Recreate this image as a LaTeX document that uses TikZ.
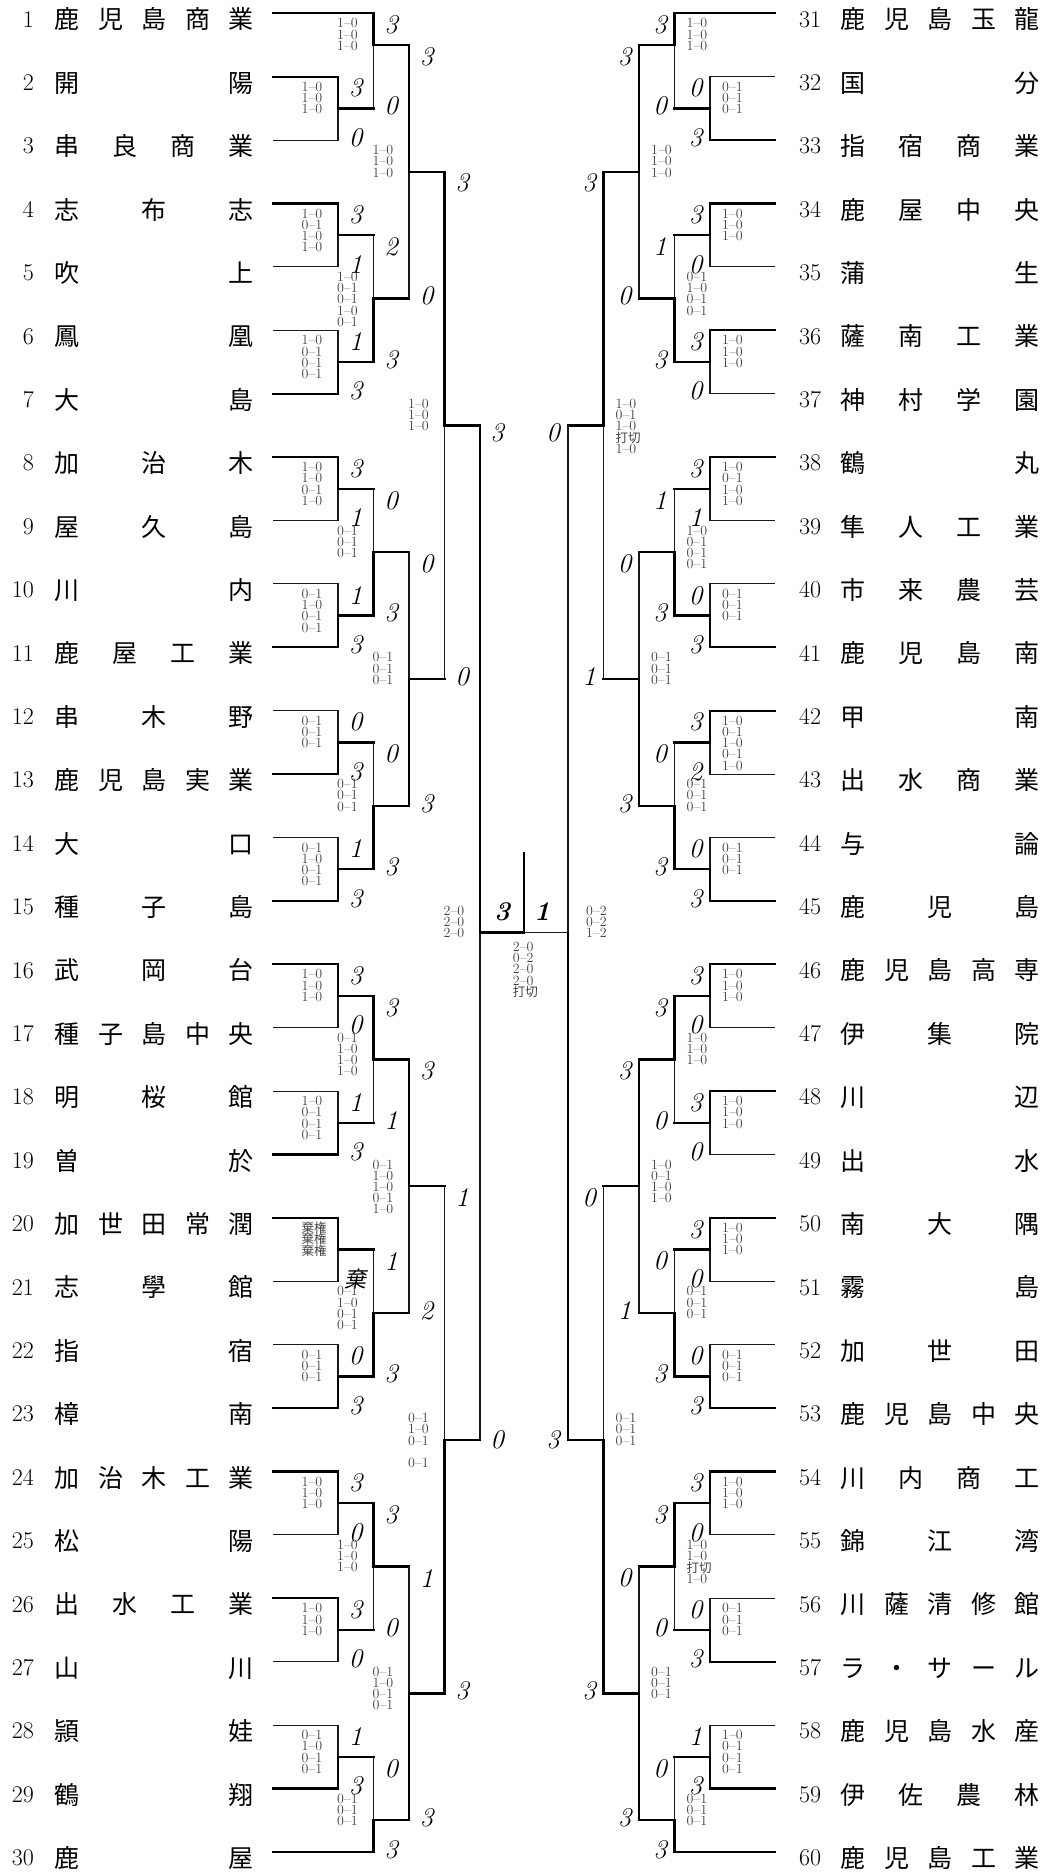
\documentclass[tikz,border=0pt]{standalone}
\usepackage{fontspec}
\newfontfamily\jp{Noto Sans CJK JP}
\newfontfamily\jpit[FakeSlant=0.2]{Noto Sans CJK JP}
\usetikzlibrary{calc}

% one match: junction, x, y, upper entrant, its style, lower entrant, its style
\newcommand\bout[7]{%
  \coordinate (#1) at (#2,#3);
  \draw[#5] (#4) -| (#1);
  \draw[#7] (#6) -| (#1);
  \coordinate (#1o) at ($(#1)+(\outx,0)$);
  \draw[win] (#1) -- (#1o);}
% scores of one match
\newcommand\bscore[5]{%
  \path (#2 -| #1) ++(\scx,11.5) node[sc] (#1u) {#3};
  \path (#4 -| #1) ++(\scx,-2.5) node[sc] (#1d) {#5};}
% set scores of one match
\newcommand\bsets[2]{%
  \foreach \s [count=\k] in {#2}
    \path (#1) ++(\stx,\k*11.2-32.9) node[st] (#1s\k) {\s};}
% small kanji in the set scores
\newcommand\jw[1]{{\fontsize{12.5}{12.5}\selectfont\jp #1}}

\begin{document}
\begin{tikzpicture}[x=1pt,y=-1pt]
    \tikzstyle{win} = [line width=2.3pt,line cap=rect]
    \tikzstyle{lose} = [line width=1.1pt,black!90]
    \tikzstyle{sc} = [inner sep=0pt,font=\fontsize{27}{27}\selectfont\itshape]
    \tikzstyle{st} = [inner sep=0pt,anchor=west,text=black!75,font=\fontsize{14}{14}\selectfont]
    \tikzstyle{no} = [inner sep=0pt,font=\fontsize{24}{24}\selectfont]
    \tikzstyle{nm} = [inner sep=0pt,anchor=base west,font=\fontsize{25}{25}\selectfont\jp]
    \useasboundingbox (0,0) rectangle (1047,1874);

    % teams
    \foreach \i/\nm in {1/鹿\hfill 児\hfill 島\hfill 商\hfill 業,2/開\hfill 陽,3/串\hfill 良\hfill 商\hfill 業,
      4/志\hfill 布\hfill 志,5/吹\hfill 上,6/鳳\hfill 凰,7/大\hfill 島,8/加\hfill 治\hfill 木,9/屋\hfill 久\hfill 島,
      10/川\hfill 内,11/鹿\hfill 屋\hfill 工\hfill 業,12/串\hfill 木\hfill 野,13/鹿\hfill 児\hfill 島\hfill 実\hfill 業,
      14/大\hfill 口,15/種\hfill 子\hfill 島,16/武\hfill 岡\hfill 台,17/種\hfill 子\hfill 島\hfill 中\hfill 央,
      18/明\hfill 桜\hfill 館,19/曽\hfill 於,20/加\hfill 世\hfill 田\hfill 常\hfill 潤,21/志\hfill 學\hfill 館,
      22/指\hfill 宿,23/樟\hfill 南,24/加\hfill 治\hfill 木\hfill 工\hfill 業,25/松\hfill 陽,
      26/出\hfill 水\hfill 工\hfill 業,27/山\hfill 川,28/頴\hfill 娃,29/鶴\hfill 翔,30/鹿\hfill 屋} {
      \coordinate (t\i) at (273,{13.3+(\i-1)*63.4});
      \node[no,anchor=base east] (n\i) at (34,{27+(\i-1)*63.4}) {\i};
      \node[nm] (s\i) at (54.5,{28.9+(\i-1)*63.4}) {\makebox[199pt][s]{\nm}};
    }
    \foreach \i/\nm in {31/鹿\hfill 児\hfill 島\hfill 玉\hfill 龍,32/国\hfill 分,33/指\hfill 宿\hfill 商\hfill 業,
      34/鹿\hfill 屋\hfill 中\hfill 央,35/蒲\hfill 生,36/薩\hfill 南\hfill 工\hfill 業,37/神\hfill 村\hfill 学\hfill 園,
      38/鶴\hfill 丸,39/隼\hfill 人\hfill 工\hfill 業,40/市\hfill 来\hfill 農\hfill 芸,41/鹿\hfill 児\hfill 島\hfill 南,
      42/甲\hfill 南,43/出\hfill 水\hfill 商\hfill 業,44/与\hfill 論,45/鹿\hfill 児\hfill 島,
      46/鹿\hfill 児\hfill 島\hfill 高\hfill 専,47/伊\hfill 集\hfill 院,48/川\hfill 辺,49/出\hfill 水,
      50/南\hfill 大\hfill 隅,51/霧\hfill 島,52/加\hfill 世\hfill 田,53/鹿\hfill 児\hfill 島\hfill 中\hfill 央,
      54/川\hfill 内\hfill 商\hfill 工,55/錦\hfill 江\hfill 湾,56/川\hfill 薩\hfill 清\hfill 修\hfill 館,
      57/ラ\hfill ・\hfill サ\hfill ー\hfill ル,58/鹿\hfill 児\hfill 島\hfill 水\hfill 産,
      59/伊\hfill 佐\hfill 農\hfill 林,60/鹿\hfill 児\hfill 島\hfill 工\hfill 業} {
      \coordinate (t\i) at (775,{13.3+(\i-31)*63.4});
      \node[no,anchor=base west] (n\i) at (799,{27+(\i-31)*63.4}) {\i};
      \node[nm] (s\i) at (840.5,{28.9+(\i-31)*63.4}) {\makebox[199pt][s]{\nm}};
    }

    % left side
    \def\outx{35.5}\def\scx{17.5}\def\stx{-36.5}
    \bout{l1}{338}{108.4}{t2}{win}{t3}{lose}
    \bscore{l1}{t2}{3}{t3}{0}
    \bsets{l1}{1--0,1--0,1--0}
    \bout{l2}{373.5}{45}{t1}{win}{l1o}{lose}
    \bscore{l2}{t1}{3}{l1o}{0}
    \bsets{l2}{1--0,1--0,1--0}
    \bout{l3}{338}{235.2}{t4}{win}{t5}{lose}
    \bscore{l3}{t4}{3}{t5}{1}
    \bsets{l3}{1--0,0--1,1--0,1--0}
    \bout{l4}{338}{362}{t6}{lose}{t7}{win}
    \bscore{l4}{t6}{1}{t7}{3}
    \bsets{l4}{1--0,0--1,0--1,0--1}
    \bout{l5}{373.5}{298.6}{l3o}{lose}{l4o}{win}
    \bscore{l5}{l3o}{2}{l4o}{3}
    \bsets{l5}{1--0,0--1,0--1,1--0,0--1}
    \bout{l6}{409}{171.8}{l2o}{win}{l5o}{lose}
    \bscore{l6}{l2o}{3}{l5o}{0}
    \bsets{l6}{1--0,1--0,1--0}
    \bout{l7}{338}{488.8}{t8}{win}{t9}{lose}
    \bscore{l7}{t8}{3}{t9}{1}
    \bsets{l7}{1--0,1--0,0--1,1--0}
    \bout{l8}{338}{615.6}{t10}{lose}{t11}{win}
    \bscore{l8}{t10}{1}{t11}{3}
    \bsets{l8}{0--1,1--0,0--1,0--1}
    \bout{l9}{373.5}{552.2}{l7o}{lose}{l8o}{win}
    \bscore{l9}{l7o}{0}{l8o}{3}
    \bsets{l9}{0--1,0--1,0--1}
    \bout{l10}{338}{742.4}{t12}{lose}{t13}{win}
    \bscore{l10}{t12}{0}{t13}{3}
    \bsets{l10}{0--1,0--1,0--1}
    \bout{l11}{338}{869.2}{t14}{lose}{t15}{win}
    \bscore{l11}{t14}{1}{t15}{3}
    \bsets{l11}{0--1,1--0,0--1,0--1}
    \bout{l12}{373.5}{805.8}{l10o}{lose}{l11o}{win}
    \bscore{l12}{l10o}{0}{l11o}{3}
    \bsets{l12}{0--1,0--1,0--1}
    \bout{l13}{409}{679}{l9o}{lose}{l12o}{win}
    \bscore{l13}{l9o}{0}{l12o}{3}
    \bsets{l13}{0--1,0--1,0--1}
    \bout{l14}{444.5}{425.4}{l6o}{win}{l13o}{lose}
    \bscore{l14}{l6o}{3}{l13o}{0}
    \bsets{l14}{1--0,1--0,1--0}
    \bout{l15}{338}{996}{t16}{win}{t17}{lose}
    \bscore{l15}{t16}{3}{t17}{0}
    \bsets{l15}{1--0,1--0,1--0}
    \bout{l16}{338}{1122.8}{t18}{lose}{t19}{win}
    \bscore{l16}{t18}{1}{t19}{3}
    \bsets{l16}{1--0,0--1,0--1,0--1}
    \bout{l17}{373.5}{1059.4}{l15o}{win}{l16o}{lose}
    \bscore{l17}{l15o}{3}{l16o}{1}
    \bsets{l17}{0--1,1--0,1--0,1--0}
    \bout{l18}{338}{1249.6}{t20}{win}{t21}{lose}
    \bscore{l18}{t20}{}{t21}{\fontsize{22}{22}\selectfont\jpit 棄}
    \bsets{l18}{\jw{棄権},\jw{棄権},\jw{棄権}}
    \bout{l19}{338}{1376.4}{t22}{lose}{t23}{win}
    \bscore{l19}{t22}{0}{t23}{3}
    \bsets{l19}{0--1,0--1,0--1}
    \bout{l20}{373.5}{1313}{l18o}{lose}{l19o}{win}
    \bscore{l20}{l18o}{1}{l19o}{3}
    \bsets{l20}{0--1,1--0,0--1,0--1}
    \bout{l21}{409}{1186.2}{l17o}{win}{l20o}{lose}
    \bscore{l21}{l17o}{3}{l20o}{2}
    \bsets{l21}{0--1,1--0,1--0,0--1,1--0}
    \bout{l22}{338}{1503.2}{t24}{win}{t25}{lose}
    \bscore{l22}{t24}{3}{t25}{0}
    \bsets{l22}{1--0,1--0,1--0}
    \bout{l23}{338}{1630}{t26}{win}{t27}{lose}
    \bscore{l23}{t26}{3}{t27}{0}
    \bsets{l23}{1--0,1--0,1--0}
    \bout{l24}{373.5}{1566.6}{l22o}{win}{l23o}{lose}
    \bscore{l24}{l22o}{3}{l23o}{0}
    \bsets{l24}{1--0,1--0,1--0}
    \bout{l25}{338}{1756.8}{t28}{lose}{t29}{win}
    \bscore{l25}{t28}{1}{t29}{3}
    \bsets{l25}{0--1,1--0,0--1,0--1}
    \bout{l26}{373.5}{1820.2}{l25o}{lose}{t30}{win}
    \bscore{l26}{l25o}{0}{t30}{3}
    \bsets{l26}{0--1,0--1,0--1}
    \bout{l27}{409}{1693.4}{l24o}{lose}{l26o}{win}
    \bscore{l27}{l24o}{1}{l26o}{3}
    \bsets{l27}{0--1,1--0,0--1,0--1}
    \bout{l28}{444.5}{1439.8}{l21o}{lose}{l27o}{win}
    \bscore{l28}{l21o}{1}{l27o}{3}
    \bsets{l28}{0--1,1--0,0--1,,0--1}
    % left semifinal
    \coordinate (sl) at (480,932.6);
    \draw[win] (l14o) -| (sl);
    \draw[lose] (l28o) -| (sl);
    \node[sc] (slu) at (497,433) {3};
    \node[sc] (sld) at (497,1440) {0};
    \bsets{sl}{2--0,2--0,2--0}

    % right side
    \def\outx{-35.5}\def\scx{-14.5}\def\stx{12}
    \bout{r1}{710}{108.4}{t32}{lose}{t33}{win}
    \bscore{r1}{t32}{0}{t33}{3}
    \bsets{r1}{0--1,0--1,0--1}
    \bout{r2}{674.5}{45}{t31}{win}{r1o}{lose}
    \bscore{r2}{t31}{3}{r1o}{0}
    \bsets{r2}{1--0,1--0,1--0}
    \bout{r3}{710}{235.2}{t34}{win}{t35}{lose}
    \bscore{r3}{t34}{3}{t35}{0}
    \bsets{r3}{1--0,1--0,1--0}
    \bout{r4}{710}{362}{t36}{win}{t37}{lose}
    \bscore{r4}{t36}{3}{t37}{0}
    \bsets{r4}{1--0,1--0,1--0}
    \bout{r5}{674.5}{298.6}{r3o}{lose}{r4o}{win}
    \bscore{r5}{r3o}{1}{r4o}{3}
    \bsets{r5}{0--1,1--0,0--1,0--1}
    \bout{r6}{639}{171.8}{r2o}{win}{r5o}{lose}
    \bscore{r6}{r2o}{3}{r5o}{0}
    \bsets{r6}{1--0,1--0,1--0}
    \bout{r7}{710}{488.8}{t38}{win}{t39}{lose}
    \bscore{r7}{t38}{3}{t39}{1}
    \bsets{r7}{1--0,0--1,1--0,1--0}
    \bout{r8}{710}{615.6}{t40}{lose}{t41}{win}
    \bscore{r8}{t40}{0}{t41}{3}
    \bsets{r8}{0--1,0--1,0--1}
    \bout{r9}{674.5}{552.2}{r7o}{lose}{r8o}{win}
    \bscore{r9}{r7o}{1}{r8o}{3}
    \bsets{r9}{1--0,0--1,0--1,0--1}
    \bout{r10}{710}{742.4}{t42}{win}{t43}{lose}
    \bscore{r10}{t42}{3}{t43}{2}
    \bsets{r10}{1--0,0--1,1--0,0--1,1--0}
    \bout{r11}{710}{869.2}{t44}{lose}{t45}{win}
    \bscore{r11}{t44}{0}{t45}{3}
    \bsets{r11}{0--1,0--1,0--1}
    \bout{r12}{674.5}{805.8}{r10o}{lose}{r11o}{win}
    \bscore{r12}{r10o}{0}{r11o}{3}
    \bsets{r12}{0--1,0--1,0--1}
    \bout{r13}{639}{679}{r9o}{lose}{r12o}{win}
    \bscore{r13}{r9o}{0}{r12o}{3}
    \bsets{r13}{0--1,0--1,0--1}
    \bout{r14}{603.5}{425.4}{r6o}{win}{r13o}{lose}
    \bscore{r14}{r6o}{3}{r13o}{1}
    \bsets{r14}{1--0,0--1,1--0,\jw{打切},1--0}
    \bout{r15}{710}{996}{t46}{win}{t47}{lose}
    \bscore{r15}{t46}{3}{t47}{0}
    \bsets{r15}{1--0,1--0,1--0}
    \bout{r16}{710}{1122.8}{t48}{win}{t49}{lose}
    \bscore{r16}{t48}{3}{t49}{0}
    \bsets{r16}{1--0,1--0,1--0}
    \bout{r17}{674.5}{1059.4}{r15o}{win}{r16o}{lose}
    \bscore{r17}{r15o}{3}{r16o}{0}
    \bsets{r17}{1--0,1--0,1--0}
    \bout{r18}{710}{1249.6}{t50}{win}{t51}{lose}
    \bscore{r18}{t50}{3}{t51}{0}
    \bsets{r18}{1--0,1--0,1--0}
    \bout{r19}{710}{1376.4}{t52}{lose}{t53}{win}
    \bscore{r19}{t52}{0}{t53}{3}
    \bsets{r19}{0--1,0--1,0--1}
    \bout{r20}{674.5}{1313}{r18o}{lose}{r19o}{win}
    \bscore{r20}{r18o}{0}{r19o}{3}
    \bsets{r20}{0--1,0--1,0--1}
    \bout{r21}{639}{1186.2}{r17o}{win}{r20o}{lose}
    \bscore{r21}{r17o}{3}{r20o}{1}
    \bsets{r21}{1--0,0--1,1--0,1--0}
    \bout{r22}{710}{1503.2}{t54}{win}{t55}{lose}
    \bscore{r22}{t54}{3}{t55}{0}
    \bsets{r22}{1--0,1--0,1--0}
    \bout{r23}{710}{1630}{t56}{lose}{t57}{win}
    \bscore{r23}{t56}{0}{t57}{3}
    \bsets{r23}{0--1,0--1,0--1}
    \bout{r24}{674.5}{1566.6}{r22o}{win}{r23o}{lose}
    \bscore{r24}{r22o}{3}{r23o}{0}
    \bsets{r24}{1--0,1--0,\jw{打切},1--0}
    \bout{r25}{710}{1756.8}{t58}{lose}{t59}{win}
    \bscore{r25}{t58}{1}{t59}{3}
    \bsets{r25}{1--0,0--1,0--1,0--1}
    \bout{r26}{674.5}{1820.2}{r25o}{lose}{t60}{win}
    \bscore{r26}{r25o}{0}{t60}{3}
    \bsets{r26}{0--1,0--1,0--1}
    \bout{r27}{639}{1693.4}{r24o}{lose}{r26o}{win}
    \bscore{r27}{r24o}{0}{r26o}{3}
    \bsets{r27}{0--1,0--1,0--1}
    \bout{r28}{603.5}{1439.8}{r21o}{lose}{r27o}{win}
    \bscore{r28}{r21o}{0}{r27o}{3}
    \bsets{r28}{0--1,0--1,0--1}
    % right semifinal
    \def\stx{18}
    \coordinate (sr) at (568,932.6);
    \draw[lose] (r14o) -| (sr);
    \draw[win] (r28o) -| (sr);
    \node[sc] (sru) at (553,433) {0};
    \node[sc] (srd) at (553,1440) {3};
    \bsets{sr}{0--2,0--2,1--2}

    % final
    \coordinate (f) at (524,932.6);
    \coordinate (c) at (524,853);
    \draw[lose] (sr) -- (f);
    \draw[win] (sl) -- (f) -- (c);
    \node[sc,font=\fontsize{27}{27}\selectfont\bfseries\itshape] (fu) at (502,912) {3};
    \node[sc,font=\fontsize{27}{27}\selectfont\bfseries\itshape] (fd) at (542,912) {1};
    \foreach \s [count=\k] in {2--0,0--2,2--0,2--0,\jw{打切}}
      \node[st] (fs\k) at (512.7,{935.4+\k*11.3}) {\s};
\end{tikzpicture}
\end{document}
